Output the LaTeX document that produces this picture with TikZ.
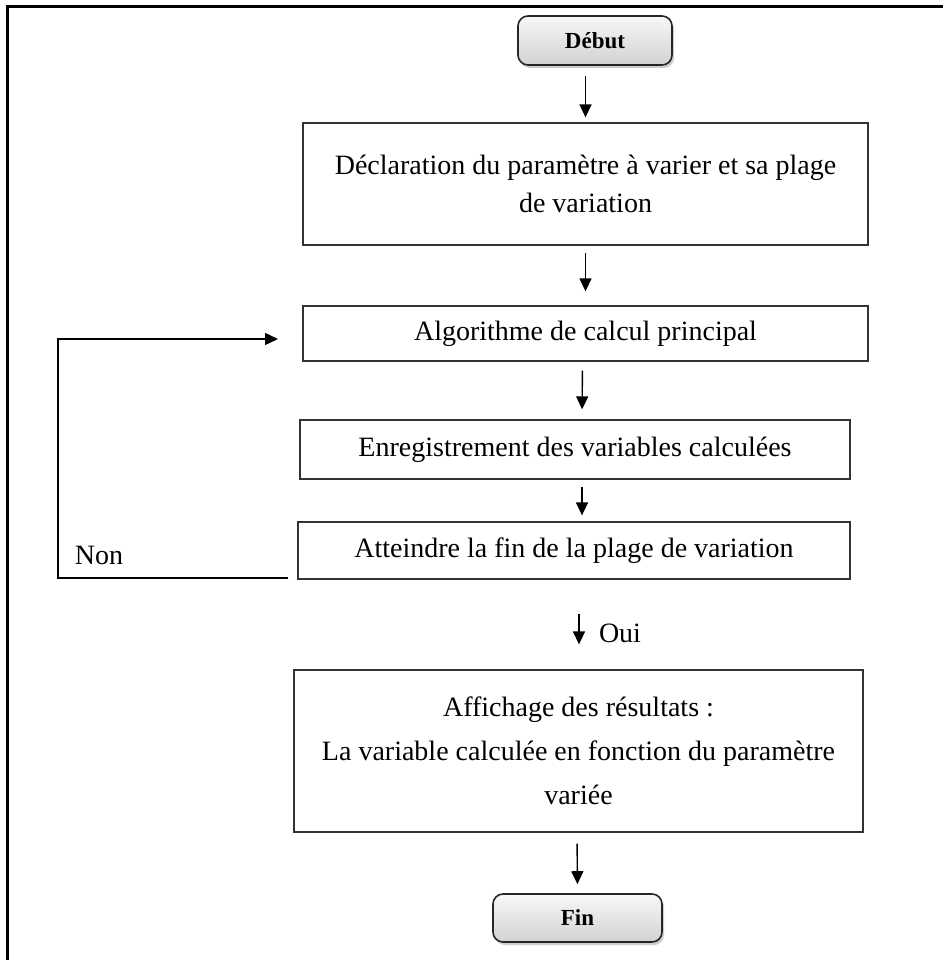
\documentclass[tikz,border=0pt]{standalone}
\usepackage{fontspec}
\setmainfont{Liberation Serif}
\usetikzlibrary{arrows.meta,shadows,calc}

\tikzset{
  stepbox/.style={draw=black!80, line width=1.3pt, fill=white, align=center,
    inner sep=0pt, font=\fontsize{28}{38}\selectfont},
  termbox/.style={draw=black!85, line width=1.6pt, rounded corners=10pt,
    top color=gray!6, bottom color=gray!35, shading angle=0,
    drop shadow={shadow xshift=2pt, shadow yshift=-3pt, fill=gray!60, opacity=0.65},
    font=\fontsize{23}{28}\selectfont\bfseries},
  flow/.style={line width=1.4pt, -{Triangle[length=13pt,width=12pt]}},
  lbl/.style={font=\fontsize{28}{34}\selectfont, inner sep=0pt}
}

\begin{document}
\begin{tikzpicture}[x=1pt,y=-1pt]
  \useasboundingbox (0,0) rectangle (943,960);
  % outer frame
  \draw[line width=3pt] (7,960) -- (7,7) -- (943,7);

  % terminals
  \node[termbox, minimum width=154pt, minimum height=49pt] (debut) at (595,40.5) {Début};
  \node[termbox, minimum width=169pt, minimum height=48pt] (fin) at (577.5,918) {Fin};

  % processing steps
  \node[stepbox, minimum width=565pt, minimum height=122pt] (decl) at (585.5,184)
    {Déclaration du paramètre à varier et sa plage\\de variation};
  \node[stepbox, minimum width=565pt, minimum height=55pt] (algo) at (585.5,333.5)
    {Algorithme de calcul principal};
  \node[stepbox, minimum width=550pt, minimum height=59pt] (enreg) at (575,449.5)
    {Enregistrement des variables calculées};
  \node[stepbox, minimum width=552pt, minimum height=57pt] (test) at (574,550.5)
    {Atteindre la fin de la plage de variation};
  \node[stepbox, minimum width=569pt, minimum height=162pt,
        font=\fontsize{28}{44}\selectfont] (affich) at (578.5,751)
    {Affichage des résultats :\\La variable calculée en fonction du paramètre\\variée};

  % vertical flow
  \draw[flow, shorten <=10pt, shorten >=5pt] (debut.south -| decl.north) -- (decl.north);
  \draw[flow, shorten <=7pt, shorten >=14pt] (decl.south) -- (algo.north);
  \draw[flow, shorten <=9pt, shorten >=10pt] ($(algo.south)+(-3,0)$) -- ($(enreg.north)+(7,0)$);
  \draw[flow, shorten <=7pt, shorten >=6pt] ($(enreg.south)+(7,0)$) -- ($(test.north)+(8,0)$);
  \draw[flow, shorten <=34pt, shorten >=25pt] ($(test.south)+(5,0)$) -- ($(affich.north)+(0.5,0)$);
  \draw[flow, shorten <=11pt, shorten >=9pt] ($(affich.south)+(-1.5,0)$) -- (fin.north);

  % loop back on "Non"
  \coordinate (nonStart) at (288,578);
  \coordinate (nonCorner) at (58,339);
  \coordinate (nonEnd) at (278,339);
  \draw[flow] (nonStart) -| (nonCorner) -- (nonEnd);

  % branch labels
  \node[lbl] (non) at (99,555) {Non};
  \node[lbl] (oui) at (620,633) {Oui};
\end{tikzpicture}
\end{document}
